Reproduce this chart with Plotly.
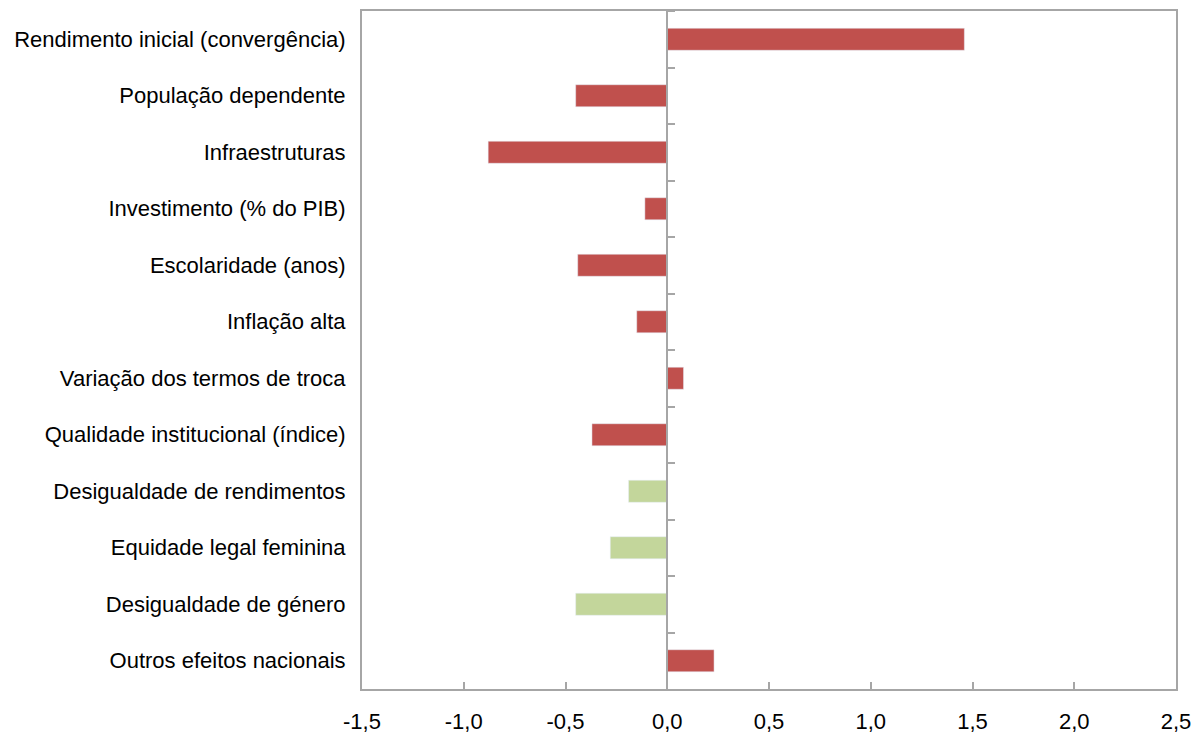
import plotly.graph_objects as go

categories = [
    "Rendimento inicial (convergência)",
    "População dependente",
    "Infraestruturas",
    "Investimento (% do PIB)",
    "Escolaridade (anos)",
    "Inflação alta",
    "Variação dos termos de troca",
    "Qualidade institucional (índice)",
    "Desigualdade de rendimentos",
    "Equidade legal feminina",
    "Desigualdade de género",
    "Outros efeitos nacionais",
]
values = [1.46, -0.45, -0.88, -0.11, -0.44, -0.15, 0.08, -0.37, -0.19, -0.28, -0.45, 0.23]
groups = ["base"] * 8 + ["genero"] * 3 + ["base"]

x_tickvals = [-1.5, -1.0, -0.5, 0.0, 0.5, 1.0, 1.5, 2.0, 2.5]
x_ticktext = ["-1,5", "-1,0", "-0,5", "0,0", "0,5", "1,0", "1,5", "2,0", "2,5"]

RED = "#C0504D"
GREEN = "#C3D69B"
GRID = "#A6A6A6"
FONT = "Liberation Sans Narrow, Arial Narrow, Liberation Sans, Arial, sans-serif"

colors = [GREEN if g == "genero" else RED for g in groups]
cat_range = [len(categories) - 0.5, -0.5]

fig = go.Figure()
fig.add_trace(
    go.Bar(
        x=values,
        y=categories,
        orientation="h",
        marker_color=colors,
        width=0.39,
        showlegend=False,
    )
)
# invisible trace so the zero-line axis carries the category ticks
fig.add_trace(
    go.Scatter(
        x=[0] * len(categories),
        y=categories,
        yaxis="y2",
        mode="markers",
        marker={"opacity": 0},
        hoverinfo="skip",
        showlegend=False,
    )
)
fig.update_layout(
    width=1193,
    height=737,
    margin={"l": 362, "r": 17, "t": 11, "b": 48},
    plot_bgcolor="white",
    paper_bgcolor="white",
    font={"family": FONT, "size": 22, "color": "black"},
    xaxis={
        "range": [-1.5, 2.5],
        "tickvals": x_tickvals,
        "ticktext": x_ticktext,
        "showgrid": False,
        "zeroline": False,
        "showline": True,
        "mirror": True,
        "linecolor": GRID,
        "linewidth": 2,
        "ticks": "inside",
        "ticklen": 7,
        "tickwidth": 2,
        "tickcolor": GRID,
        "ticklabelstandoff": 12,
        "ticklabeloverflow": "allow",
        "automargin": False,
    },
    yaxis={
        "type": "category",
        "categoryorder": "array",
        "categoryarray": categories,
        "range": cat_range,
        "showgrid": False,
        "showline": True,
        "mirror": True,
        "linecolor": GRID,
        "linewidth": 2,
        "ticks": "",
        "ticklabelstandoff": 10,
        "automargin": False,
    },
    yaxis2={
        "type": "category",
        "categoryorder": "array",
        "categoryarray": categories,
        "range": cat_range,
        "overlaying": "y",
        "anchor": "free",
        "position": 0.375,
        "side": "right",
        "showgrid": False,
        "showline": True,
        "linecolor": GRID,
        "linewidth": 2,
        "ticks": "outside",
        "tickson": "boundaries",
        "ticklen": 7,
        "tickwidth": 2,
        "tickcolor": GRID,
        "showticklabels": False,
        "automargin": False,
    },
)
# drop the default page margin so the figure fills the window exactly
fig.write_html(
    "out.html",
    config={"displayModeBar": False},
    post_script="document.body.style.margin='0';document.body.style.overflow='hidden';",
)
